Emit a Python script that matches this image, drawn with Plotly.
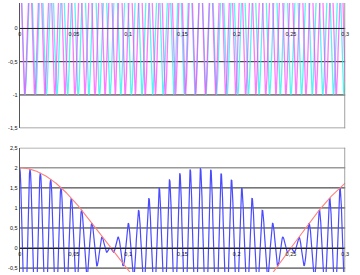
import numpy as np
import plotly.graph_objects as go

# --- values ---
freqs_hz = [108, 102]          # two component tones (top chart: magenta, cyan)
amplitudes = [1.0, 1.0]
t_start, t_end, t_step = 0.0, 0.3, 0.0005
x_ticks = [0, 0.05, 0.1, 0.15, 0.2, 0.25, 0.3]
x_tick_labels = ["0", "0,05", "0,1", "0,15", "0,2", "0,25", "0,3"]
top_y_ticks = [-1.5, -1, -0.5, 0]
top_y_labels = ["-1,5", "-1", "-0,5", "0"]
bottom_y_ticks = [-0.5, 0, 0.5, 1, 1.5, 2, 2.5]
bottom_y_labels = ["-0,5", "0", "0,5", "1", "1,5", "2", "2,5"]
bottom_gray_lines = [2, 2.5]

t = np.arange(t_start, t_end + t_step / 2, t_step)
tone_a = amplitudes[0] * np.cos(2 * np.pi * freqs_hz[0] * t)
tone_b = amplitudes[1] * np.cos(2 * np.pi * freqs_hz[1] * t)
beat = tone_a + tone_b
envelope = (amplitudes[0] + amplitudes[1]) * np.cos(np.pi * (freqs_hz[0] - freqs_hz[1]) * t)

fig = go.Figure()
fig.add_trace(go.Scatter(x=t, y=tone_b, mode="lines", line=dict(color="#30f0f0", width=1.3),
                         opacity=0.8, xaxis="x", yaxis="y", hoverinfo="skip"))
fig.add_trace(go.Scatter(x=t, y=tone_a, mode="lines", line=dict(color="#ff40ff", width=1.3),
                         opacity=0.7, xaxis="x", yaxis="y", hoverinfo="skip"))
fig.add_trace(go.Scatter(x=t, y=beat, mode="lines", line=dict(color="#4a4aff", width=1.2),
                         xaxis="x2", yaxis="y2", hoverinfo="skip"))
fig.add_trace(go.Scatter(x=t, y=envelope, mode="lines", line=dict(color="#ff8080", width=1.1),
                         xaxis="x2", yaxis="y2", hoverinfo="skip"))

W, H = 360, 275
x_dom = [18 / W, 349 / W]
top_dom = [1 - 128 / H, 1]
bot_dom = [0, 1 - 148 / H]
top_range = [-1.5, -1.5 + 128 / 68]
bot_range = [2.5 - 127 / 41, 2.5]


def zero_pos(dom, rng):
    return dom[0] + (0 - rng[0]) / (rng[1] - rng[0]) * (dom[1] - dom[0])


font = dict(family="Liberation Sans, Arial, sans-serif", size=5.5, color="#111")

xcommon = dict(range=[t_start, t_end], domain=x_dom, tickvals=x_ticks, ticktext=x_tick_labels,
               showgrid=False, zeroline=False, showline=True, linecolor="#222", linewidth=1,
               ticks="", tickfont=font, anchor="free")
ycommon = dict(showgrid=False, zeroline=False, showline=True, linecolor="#555", linewidth=1,
               ticks="", tickfont=font)

fig.update_layout(
    width=W, height=H, margin=dict(l=0, r=0, t=0, b=0),
    paper_bgcolor="white", plot_bgcolor="white", showlegend=False,
    xaxis=dict(**xcommon, position=zero_pos(top_dom, top_range)),
    yaxis=dict(**ycommon, domain=top_dom, range=top_range, tickvals=top_y_ticks,
               ticktext=top_y_labels, anchor="x"),
    xaxis2=dict(**xcommon, position=zero_pos(bot_dom, bot_range)),
    yaxis2=dict(**ycommon, domain=bot_dom, range=bot_range, tickvals=bottom_y_ticks,
                ticktext=bottom_y_labels, anchor="x2"),
)

shapes = []
# top chart gridlines
for v in top_y_ticks:
    gray = v == top_y_ticks[0]
    shapes.append(dict(type="line", xref="x domain", yref="y", x0=0, x1=1, y0=v, y1=v,
                       line=dict(color="#8a8a8a" if gray else "#222", width=1.6 if gray else 1),
                       layer="below"))
shapes.append(dict(type="line", xref="x", yref="y domain", x0=t_end, x1=t_end, y0=0, y1=1,
                   line=dict(color="#8a8a8a", width=1.6)))
# bottom chart gridlines
for v in bottom_y_ticks:
    gray = v in bottom_gray_lines
    shapes.append(dict(type="line", xref="x2 domain", yref="y2", x0=0, x1=1, y0=v, y1=v,
                       line=dict(color="#9a9a9a" if gray else "#222", width=1.6 if gray else 1),
                       layer="below"))
shapes.append(dict(type="line", xref="x2", yref="y2 domain", x0=t_end, x1=t_end, y0=0, y1=1,
                   line=dict(color="#8a8a8a", width=1.6)))
fig.update_layout(shapes=shapes)

fig.write_html("out.html")
